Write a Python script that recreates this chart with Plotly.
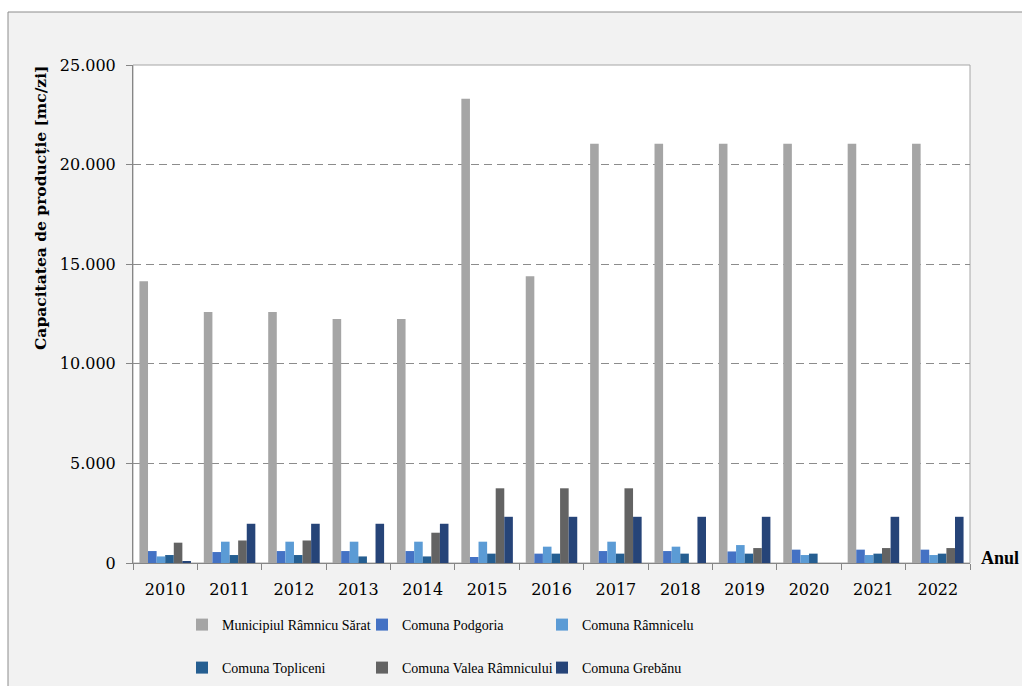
import plotly.graph_objects as go

# ani
ani = ['2010', '2011', '2012', '2013', '2014', '2015', '2016',
       '2017', '2018', '2019', '2020', '2021', '2022']

# capacitatea de productie [mc/zi] pe localitati
municipiul = [14150, 12600, 12600, 12250, 12250, 23300, 14400,
              21050, 21050, 21050, 21050, 21050, 21050]
podgoria = [600, 550, 600, 600, 600, 300, 470, 600, 600, 580, 670, 670, 670]
ramnicelu = [330, 1070, 1070, 1070, 1070, 1070, 820, 1070, 820, 900, 400, 400, 400]
topliceni = [400, 400, 400, 330, 330, 470, 470, 470, 470, 470, 470, 470, 470]
valea = [1020, 1130, 1130, 0, 1520, 3750, 3750, 3750, 0, 750, 0, 750, 750]
grebanu = [60, 1970, 1970, 1970, 1970, 2320, 2320, 2320, 2320, 2320, 0, 2320, 2320]

serii = [
    ('Municipiul Râmnicu Sărat', municipiul, '#a5a5a5', 'legend'),
    ('Comuna Podgoria', podgoria, '#4472c4', 'legend'),
    ('Comuna Râmnicelu', ramnicelu, '#5b9bd5', 'legend'),
    ('Comuna Topliceni', topliceni, '#255e91', 'legend2'),
    ('Comuna Valea Râmnicului', valea, '#636363', 'legend2'),
    ('Comuna Grebănu', grebanu, '#264478', 'legend2'),
]

font = 'DejaVu Serif'

# figura ocupa toata fereastra (margin body = 0, vezi post_script)
FW, FH = 1022, 686
L, T, W, H = 133, 65, 837, 498


def px(x):
    return (x - L) / W


def py(y):
    return (T + H - y) / H


fig = go.Figure()
for nume, valori, culoare, leg in serii:
    fig.add_trace(go.Bar(x=ani, y=valori, name=nume, marker_color=culoare,
                         marker_line_width=0, legend=leg))

leg_common = dict(orientation='h', xanchor='left', yanchor='middle',
                  bgcolor='rgba(0,0,0,0)',
                  font=dict(family='Liberation Serif', size=14, color='#000'),
                  entrywidth=135, itemsizing='constant')

fig.update_layout(
    width=FW, height=FH,
    margin=dict(l=L, r=FW - L - W, t=T, b=FH - T - H, autoexpand=False),
    paper_bgcolor='white', plot_bgcolor='rgba(0,0,0,0)',
    separators=',.',
    barmode='group', bargap=0.2, bargroupgap=0,
    font=dict(family=font, size=16, color='#000'),
    legend=dict(x=px(182), y=py(625), **leg_common),
    legend2=dict(x=px(182), y=py(668), **leg_common),
    xaxis=dict(type='category', tickson='boundaries', ticks='outside', ticklen=6,
               tickcolor='#868686', showline=True, linecolor='#868686', linewidth=1,
               showgrid=False, ticklabelstandoff=12,
               tickfont=dict(family=font, size=16, color='#000')),
    yaxis=dict(range=[0, 25000], tickvals=[0, 5000, 10000, 15000, 20000, 25000],
               tickformat=',d', ticks='outside', ticklen=6, tickcolor='#868686',
               showline=True, linecolor='#868686', linewidth=1, ticklabelstandoff=7,
               showgrid=True, gridcolor='#8c8c8c', griddash='8px,5px', gridwidth=1,
               zeroline=False, tickfont=dict(family=font, size=16, color='#000')),
    shapes=[
        dict(type='rect', xref='paper', yref='paper', layer='below',
             x0=px(8), x1=px(1100), y0=py(800), y1=py(12),
             fillcolor='#f2f2f2', line=dict(color='#8c8c8c', width=1)),
        dict(type='rect', xref='paper', yref='paper', layer='below',
             x0=0, x1=1, y0=0, y1=1,
             fillcolor='white', line=dict(color='#a6a6a6', width=1)),
    ],
    annotations=[
        dict(text='<b>Capacitatea de producție [mc/zi]</b>', textangle=-90,
             xref='paper', yref='paper', x=px(40), y=py(208),
             xanchor='center', yanchor='middle', showarrow=False,
             font=dict(family=font, size=15.5, color='#000')),
        dict(text='<b>Anul</b>', xref='paper', yref='paper',
             x=px(1021), y=py(558),
             xanchor='right', yanchor='middle', showarrow=False,
             font=dict(family='Liberation Serif', size=18, color='#000')),
    ],
)

fig.write_html('out.html', config={'displayModeBar': False},
               post_script="document.body.style.margin='0';")
